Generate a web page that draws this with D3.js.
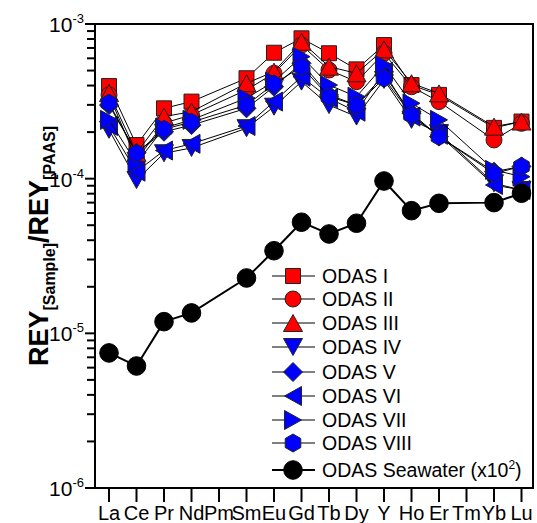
<!DOCTYPE html>
<html><head><meta charset="utf-8">
<script src="https://cdn.jsdelivr.net/npm/d3@7"></script>
<style>
body{margin:0;background:#fff}
svg{display:block}
text{font-family:Arial,"Liberation Sans",sans-serif;fill:#000}
</style>
</head><body>
<svg id="chart" width="537" height="523"></svg>
<script>
// ---------------- DATA ----------------
const elements = ["La","Ce","Pr","Nd","Pm","Sm","Eu","Gd","Tb","Dy","Y","Ho","Er","Tm","Yb","Lu"];
const odasI    = [3.97e-4,1.65e-4,2.85e-4,3.15e-4,null,4.46e-4,6.52e-4,8.08e-4,6.47e-4,5.09e-4,7.31e-4,4.03e-4,3.48e-4,null,2.13e-4,2.34e-4];
const odasII   = [3.48e-4,1.32e-4,2.29e-4,2.58e-4,null,3.75e-4,4.80e-4,7.31e-4,5.04e-4,4.24e-4,6.47e-4,3.93e-4,3.15e-4,null,1.78e-4,2.28e-4];
const odasIII  = [3.58e-4,1.47e-4,2.52e-4,2.71e-4,null,4.14e-4,4.92e-4,7.68e-4,5.30e-4,4.80e-4,6.86e-4,4.14e-4,3.56e-4,null,2.17e-4,2.34e-4];
const odasIV   = [2.07e-4,9.80e-5,1.46e-4,1.58e-4,null,2.12e-4,2.92e-4,4.24e-4,2.99e-4,2.52e-4,4.35e-4,2.40e-4,1.97e-4,null,9.33e-5,8.45e-5];
const odasV    = [2.99e-4,1.47e-4,2.01e-4,2.22e-4,null,2.85e-4,3.93e-4,5.57e-4,3.48e-4,2.99e-4,4.68e-4,2.65e-4,1.87e-4,null,1.11e-4,1.20e-4];
const odasVI   = [2.19e-4,1.11e-4,1.52e-4,1.68e-4,null,2.19e-4,3.15e-4,4.56e-4,3.31e-4,2.71e-4,4.92e-4,2.52e-4,1.92e-4,null,9.10e-5,8.45e-5];
const odasVII  = [2.40e-4,1.26e-4,2.13e-4,2.40e-4,null,3.32e-4,4.24e-4,6.15e-4,4.03e-4,3.39e-4,5.43e-4,3.07e-4,2.40e-4,null,1.14e-4,1.03e-4];
const odasVIII = [3.08e-4,1.46e-4,2.09e-4,2.32e-4,null,2.99e-4,4.10e-4,5.30e-4,3.39e-4,2.99e-4,4.46e-4,2.58e-4,1.87e-4,null,1.08e-4,1.20e-4];
const seawater = [7.47e-6,6.15e-6,1.19e-5,1.355e-5,null,2.28e-5,3.42e-5,5.23e-5,4.39e-5,5.15e-5,9.66e-5,6.21e-5,6.93e-5,null,7.00e-5,8.05e-5];

const seriesNames = ["ODAS I","ODAS II","ODAS III","ODAS IV","ODAS V","ODAS VI","ODAS VII","ODAS VIII","ODAS Seawater (x10"];
const seriesData  = [odasI,odasII,odasIII,odasIV,odasV,odasVI,odasVII,odasVIII,seawater];
const seriesColors = ["#ff0000","#ff0000","#ff0000","#0000ff","#0000ff","#0000ff","#0000ff","#0000ff","#000000"];
const seriesSymbols = ["square","circle","triUp","triDown","diamond","triLeft","triRight","hexagon","bigCircle"];
const yTickValues = [1e-6,1e-5,1e-4,1e-3];
const yTickExps   = ["-6","-5","-4","-3"];

// ---------------- LAYOUT ----------------
const L = 95, R = 533, T = 24, B = 488;
const svg = d3.select("#chart");

const x = d3.scalePoint().domain(elements).range([109, 521.5]);
const y = d3.scaleLog().domain([1e-6, 1e-3]).range([B, T]);

function symPath(type){
  switch(type){
    case "square": { const h=7.5; return `M${-h},${-h}H${h}V${h}H${-h}Z`; }
    case "circle": { const r=8; return `M${r},0A${r},${r} 0 1,1 ${-r},0A${r},${r} 0 1,1 ${r},0Z`; }
    case "bigCircle": { const r=9.3; return `M${r},0A${r},${r} 0 1,1 ${-r},0A${r},${r} 0 1,1 ${r},0Z`; }
    case "triUp": { const a=9.5, h=8.5; return `M0,${-h}L${a},${h}L${-a},${h}Z`; }
    case "triDown": { const a=9.5, h=8.5; return `M0,${h}L${a},${-h}L${-a},${-h}Z`; }
    case "triLeft": { const a=9.5, h=8.5; return `M${-h},0L${h},${-a}L${h},${a}Z`; }
    case "triRight": { const a=9.5, h=8.5; return `M${h},0L${-h},${-a}L${-h},${a}Z`; }
    case "diamond": { const d=9.5; return `M0,${-d}L${d},0L0,${d}L${-d},0Z`; }
    case "hexagon": { const r=9; let p=[]; for(let i=0;i<6;i++){const a=Math.PI/3*i - Math.PI/2; p.push([r*Math.cos(a), r*Math.sin(a)]);} return "M"+p.map(q=>q[0].toFixed(2)+","+q[1].toFixed(2)).join("L")+"Z"; }
  }
}

// ---------------- FRAME & AXES ----------------
const gAx = svg.append("g");
const yMinor = [];
for (let e=-6; e<-3; e++) for (let m=2; m<=9; m++) yMinor.push(m*Math.pow(10,e));
gAx.selectAll("line.ymin").data(yMinor).join("line")
  .attr("x1", L-8).attr("x2", L).attr("y1", d=>y(d)).attr("y2", d=>y(d))
  .attr("stroke","#000").attr("stroke-width",2);
gAx.selectAll("line.ymaj").data(yTickValues).join("line")
  .attr("x1", L-10).attr("x2", L).attr("y1", d=>y(d)).attr("y2", d=>y(d))
  .attr("stroke","#000").attr("stroke-width",2);

const yl = gAx.selectAll("text.ytl").data(yTickValues).join("text")
  .attr("x", L-11).attr("y", d=>y(d)+8).attr("text-anchor","end")
  .style("font-size","21px");
yl.append("tspan").text("10");
yl.append("tspan").attr("dy",-9).style("font-size","13px").text((d,i)=>yTickExps[i]);

gAx.selectAll("line.xt").data(elements).join("line")
  .attr("x1", d=>x(d)).attr("x2", d=>x(d)).attr("y1", B).attr("y2", B+14)
  .attr("stroke","#000").attr("stroke-width",2);
gAx.selectAll("text.xtl").data(elements).join("text")
  .attr("x", d=>x(d)).attr("y", 520).attr("text-anchor","middle")
  .style("font-size","20px").text(d=>d);

svg.append("rect").attr("x",L).attr("y",T).attr("width",R-L).attr("height",B-T)
  .attr("fill","none").attr("stroke","#000").attr("stroke-width",2);

const yt = svg.append("text")
  .attr("transform", `translate(48,${(T+B)/2 - 10}) rotate(-90)`)
  .attr("text-anchor","middle").style("font-weight","bold").style("font-size","27px");
yt.append("tspan").text("REY");
yt.append("tspan").attr("dy",7).style("font-size","16px").text("[Sample]");
yt.append("tspan").attr("dy",-7).text("/REY");
yt.append("tspan").attr("dy",7).style("font-size","16px").text("[PAAS]");

// ---------------- DATA SERIES ----------------
const line = d3.line().x(d=>x(d.k)).y(d=>y(d.v));
const plot = svg.append("g");
seriesData.forEach((arr,i)=>{
  const pts = elements.map((k,j)=>({k, v:arr[j]})).filter(d=>d.v!=null);
  const g = plot.append("g");
  g.append("path").attr("d", line(pts)).attr("fill","none")
    .attr("stroke","#000").attr("stroke-width", i===8?2:1);
  g.selectAll("path.m").data(pts).join("path")
    .attr("d", symPath(seriesSymbols[i]))
    .attr("transform", d=>`translate(${x(d.k)},${y(d.v)})`)
    .attr("fill", seriesColors[i]).attr("stroke", i===8?"#000":"#222").attr("stroke-width",1);
});

// ---------------- LEGEND ----------------
const lg = svg.append("g");
const rowsY = [276,299,323,347,372,396,420,443,470];
seriesNames.forEach((nm,i)=>{
  const ry = rowsY[i];
  lg.append("line").attr("x1",272).attr("x2",315).attr("y1",ry).attr("y2",ry)
    .attr("stroke","#000").attr("stroke-width", i===8?2:1);
  lg.append("path").attr("d", symPath(seriesSymbols[i]))
    .attr("transform",`translate(293,${ry})`)
    .attr("fill",seriesColors[i]).attr("stroke", i===8?"#000":"#222").attr("stroke-width",1);
  const t = lg.append("text").attr("x",322).attr("y",ry+7).style("font-size","19.5px").text(nm);
  if(i===8){
    t.append("tspan").attr("dy",-8).style("font-size","12px").text("2");
    t.append("tspan").attr("dy",8).text(")");
  }
});
</script>
</body></html>
